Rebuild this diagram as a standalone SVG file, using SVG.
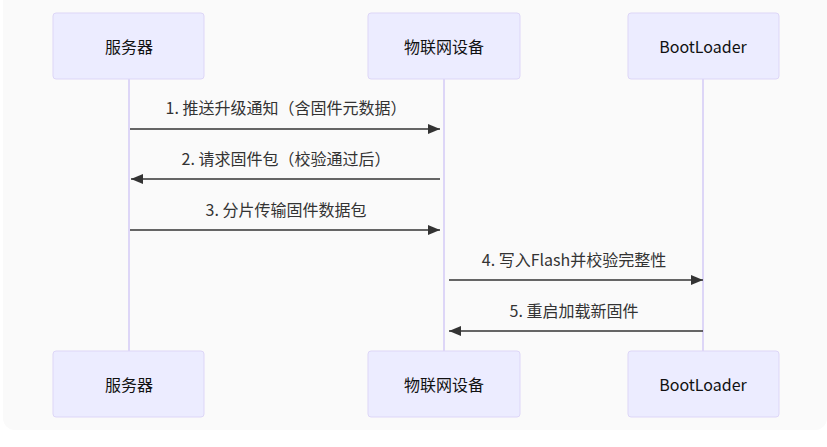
<svg xmlns="http://www.w3.org/2000/svg" width="827" height="447" viewBox="0 0 827 447">
<defs>
<style>
.bg{fill:#fafafa}
.actor{fill:#ececff;stroke:#ddd6f7;stroke-width:1}
.life{stroke:#ddd6f7;stroke-width:2}
.msg{stroke:#333;stroke-width:1.5;fill:none}
.at{font-family:"Noto Sans CJK SC","Noto Sans",sans-serif;font-size:16px;fill:#111;text-anchor:middle;dominant-baseline:central}
.mt{font-family:"Noto Sans CJK SC","Noto Sans",sans-serif;font-size:16px;fill:#333;text-anchor:middle;dominant-baseline:central}
</style>
<marker id="ah" viewBox="0 0 12 10" refX="12" refY="5" markerWidth="12" markerHeight="10" markerUnits="userSpaceOnUse" orient="auto">
<path d="M0,0 L12,5 L0,10 z" fill="#333"/>
</marker>
</defs>
<rect class="bg" x="3" y="-10" width="824" height="440" rx="12"/>
<g id="lifelines">
<line class="life" x1="129" y1="79" x2="129" y2="351"/>
<line class="life" x1="444" y1="79" x2="444" y2="351"/>
<line class="life" x1="703" y1="79" x2="703" y2="351"/>
</g>
<g id="server-top"><rect class="actor" x="53" y="13" width="151" height="66" rx="3"/><text class="at" x="129" y="46">服务器</text></g>
<g id="device-top"><rect class="actor" x="368" y="13" width="152" height="66" rx="3"/><text class="at" x="444" y="46">物联网设备</text></g>
<g id="boot-top"><rect class="actor" x="628" y="13" width="151" height="66" rx="3"/><text class="at" x="703" y="46">BootLoader</text></g>
<g id="server-bottom"><rect class="actor" x="53" y="351" width="151" height="66" rx="3"/><text class="at" x="129" y="384">服务器</text></g>
<g id="device-bottom"><rect class="actor" x="368" y="351" width="152" height="66" rx="3"/><text class="at" x="444" y="384">物联网设备</text></g>
<g id="boot-bottom"><rect class="actor" x="628" y="351" width="151" height="66" rx="3"/><text class="at" x="703" y="384">BootLoader</text></g>
<g id="connectors">
<line class="msg" x1="130" y1="129" x2="440" y2="129" marker-end="url(#ah)"/>
<text class="mt" x="286" y="107">1. 推送升级通知（含固件元数据）</text>
<line class="msg" x1="440" y1="179" x2="131" y2="179" marker-end="url(#ah)"/>
<text class="mt" x="286" y="158">2. 请求固件包（校验通过后）</text>
<line class="msg" x1="130" y1="230" x2="440" y2="230" marker-end="url(#ah)"/>
<text class="mt" x="286" y="209">3. 分片传输固件数据包</text>
<line class="msg" x1="449" y1="280" x2="703" y2="280" marker-end="url(#ah)"/>
<text class="mt" x="574" y="259">4. 写入Flash并校验完整性</text>
<line class="msg" x1="703" y1="331" x2="449" y2="331" marker-end="url(#ah)"/>
<text class="mt" x="574" y="310">5. 重启加载新固件</text>
</g>
</svg>
